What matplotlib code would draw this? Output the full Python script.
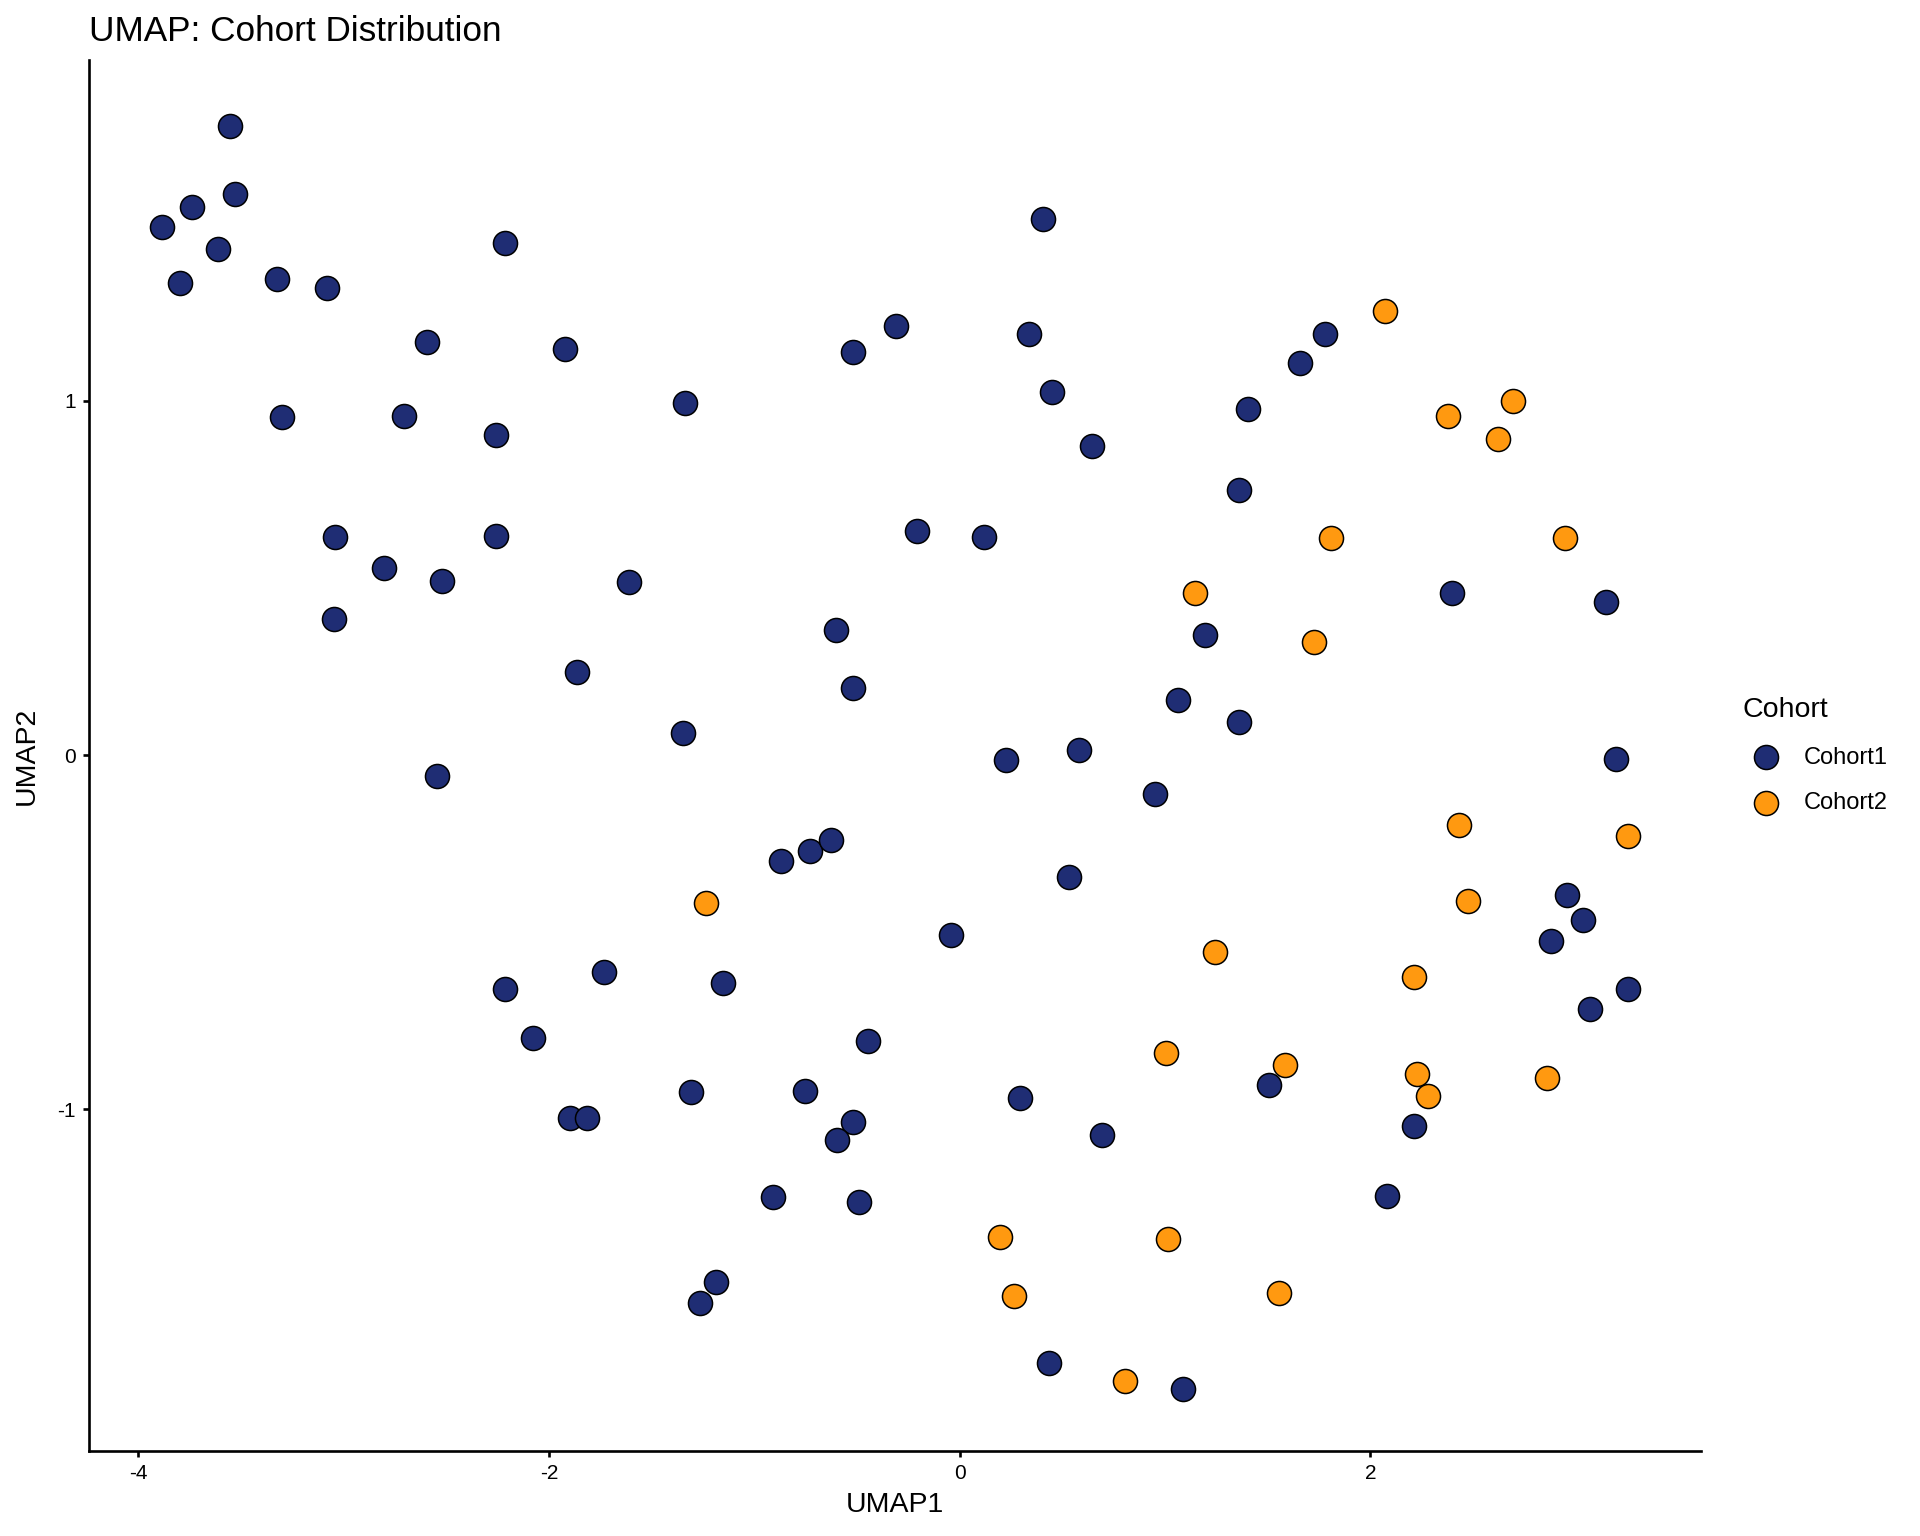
import matplotlib
matplotlib.use("Agg")
import matplotlib.pyplot as plt

plt.rcParams['font.family'] = ['Liberation Sans', 'DejaVu Sans']

# Cohort1 points (UMAP1, UMAP2)
c1_x = [-3.554, -3.740, -3.530, -3.883, -3.614, -3.799, -3.327, -3.082, -2.216, -2.593,
        -1.924, -3.303, -2.706, -2.258, -1.338, -3.041, -2.802, -2.258, -2.521, -3.047,
        -1.613, -1.864, -1.350, -2.545, -2.216, -2.079, -1.732, -1.153, -1.900, -1.816,
        -1.308, -0.872, -0.729, -0.627, -0.753, -0.448, -0.520, -0.597, -0.908, -0.490,
        -1.189, -1.266, -0.520, -0.311, -0.603, -0.520, -0.209, -0.042, 0.119, 0.406,
        0.335, 0.448, 0.645, 0.227, 0.579, 0.532, 0.293, 0.693, 0.950, 0.436,
        1.087, 1.063, 1.195, 1.362, 1.362, 1.404, 1.655, 1.780, 1.505, 2.210,
        2.079, 2.395, 3.148, 3.196, 2.957, 3.035, 2.879, 3.256, 3.070]
c1_y = [1.775, 1.547, 1.585, 1.491, 1.429, 1.332, 1.343, 1.318, 1.446, 1.166,
        1.145, 0.955, 0.958, 0.903, 0.993, 0.616, 0.529, 0.619, 0.491, 0.384,
        0.488, 0.235, 0.062, -0.059, -0.661, -0.799, -0.612, -0.644, -1.024, -1.024,
        -0.952, -0.298, -0.270, -0.239, -0.948, -0.806, -1.035, -1.087, -1.249, -1.263,
        -1.488, -1.547, 1.138, 1.211, 0.353, 0.190, 0.633, -0.509, 0.616, 1.512,
        1.190, 1.024, 0.872, -0.014, 0.014, -0.343, -0.969, -1.073, -0.111, -1.716,
        -1.789, 0.156, 0.339, 0.093, 0.747, 0.976, 1.107, 1.190, -0.931, -1.048,
        -1.246, 0.457, 0.433, -0.010, -0.394, -0.467, -0.526, -0.661, -0.716]

# Cohort2 points (UMAP1, UMAP2)
c2_x = [2.073, 2.694, 2.378, 2.622, 1.810, 2.945, 1.147, 1.726, 2.431, 3.256,
        2.473, -1.237, 1.243, 2.210, 1.004, 1.583, 2.228, 2.282, 2.861, 0.197,
        1.016, 0.263, 1.553, 0.806]
c2_y = [1.253, 1.000, 0.958, 0.893, 0.612, 0.612, 0.457, 0.318, -0.197, -0.228,
        -0.412, -0.419, -0.557, -0.626, -0.841, -0.875, -0.900, -0.962, -0.913, -1.360,
        -1.367, -1.526, -1.519, -1.768]

cohorts = ["Cohort1", "Cohort2"]
colors = ["#1F2D74", "#FF9910"]

x_ticks = [-4, -2, 0, 2]
y_ticks = [-1, 0, 1]

fig = plt.figure(figsize=(19.2, 15.36), dpi=100)
ax = fig.add_axes([0.0464, 0.0553, 0.8396, 0.9056])

ax.scatter(c1_x, c1_y, s=300, c=colors[0], edgecolors="black", linewidths=1.1,
           label=cohorts[0], zorder=3)
ax.scatter(c2_x, c2_y, s=300, c=colors[1], edgecolors="black", linewidths=1.1,
           label=cohorts[1], zorder=3)

ax.set_xlim(-4.24, 3.61)
ax.set_ylim(-1.965, 1.962)
ax.set_xticks(x_ticks)
ax.set_xticklabels([str(v) for v in x_ticks])
ax.set_yticks(y_ticks)
ax.set_yticklabels([str(v) for v in y_ticks])

for s in ["top", "right"]:
    ax.spines[s].set_visible(False)
for s in ["left", "bottom"]:
    ax.spines[s].set_linewidth(1.9)
    ax.spines[s].set_color("black")
ax.tick_params(axis="both", length=4.5, width=1.9, colors="black", labelsize=15, pad=5)

ax.set_xlabel("UMAP1", fontsize=20.5, labelpad=6)
ax.set_ylabel("UMAP2", fontsize=20.5, labelpad=13)
ax.set_title("UMAP: Cohort Distribution", loc="left", fontsize=25.3, pad=14)

leg = ax.legend(title="Cohort", loc="center left", bbox_to_anchor=(1.02, 0.5),
                frameon=False, fontsize=17, title_fontsize=20.5, labelspacing=1.0,
                handletextpad=0.6, alignment="left", borderaxespad=0)

fig.savefig("out.png", dpi=100, facecolor="white")
